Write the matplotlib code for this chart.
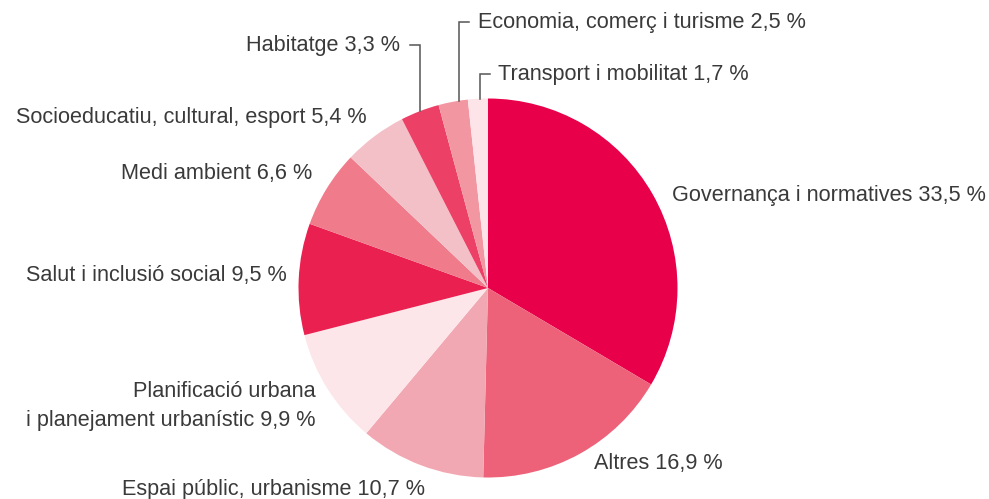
import numpy as np
import matplotlib.pyplot as plt

plt.rcParams['font.family'] = ['Liberation Sans', 'DejaVu Sans']

# Data (clockwise from the top)
categories = [
    "Governança i normatives", "Altres", "Espai públic, urbanisme",
    "Planificació urbana\ni planejament urbanístic", "Salut i inclusió social",
    "Medi ambient", "Socioeducatiu, cultural, esport", "Habitatge",
    "Economia, comerç i turisme", "Transport i mobilitat",
]
values = [33.5, 16.9, 10.7, 9.9, 9.5, 6.6, 5.4, 3.3, 2.5, 1.7]
colors = ['#E8004B', '#EE6279', '#F2A8B2', '#FCE6E9', '#EA2050',
          '#F07B8B', '#F4C0C8', '#EC4066', '#F296A2', '#FDE4E8']

W, H = 989, 499
cx, cy, r = 488, 288, 189.5  # pixel coords of the pie


def py(y):
    # pixel row -> data y
    return H - y


def fmt(v):
    return f"{v:.1f}".replace('.', ',') + " %"


fig = plt.figure(figsize=(W / 100, H / 100), dpi=100)
ax = fig.add_axes([0, 0, 1, 1])
ax.pie(values, colors=colors, startangle=90, counterclock=False,
       center=(cx, py(cy)), radius=r, wedgeprops=dict(linewidth=0))
ax.set_xlim(0, W)
ax.set_ylim(0, H)
ax.set_aspect('equal')
ax.axis('off')

txt = dict(fontsize=15.6, color='#3a3a3a', va='center')

# label placement: (x, y, ha) in pixels
label_pos = [
    (672, 195, 'left'),
    (594, 463, 'left'),
    (425, 490, 'right'),
    (316, 406, 'right'),
    (287, 276, 'right'),
    (312, 173, 'right'),
    (367, 117, 'right'),
    (400, 45, 'right'),
    (478, 22, 'left'),
    (498, 74, 'left'),
]

for cat, v, (x, y, ha) in zip(categories, values, label_pos):
    ax.text(x, py(y), f"{cat} {fmt(v)}", ha=ha, linespacing=1.5, **txt)

# leader lines for the small slices: (line x, label y, horizontal tick direction)
leaders = [(420, 45, -1), (459, 22, 1), (480, 74, 1)]
for lx, ly, d in leaders:
    y_edge = cy - np.sqrt(r ** 2 - (lx - cx) ** 2)
    ax.plot([lx + d * 10, lx, lx], [py(ly), py(ly), py(y_edge)],
            color='#555555', lw=1.1, solid_joinstyle='miter')

fig.savefig('out.png', dpi=100)
